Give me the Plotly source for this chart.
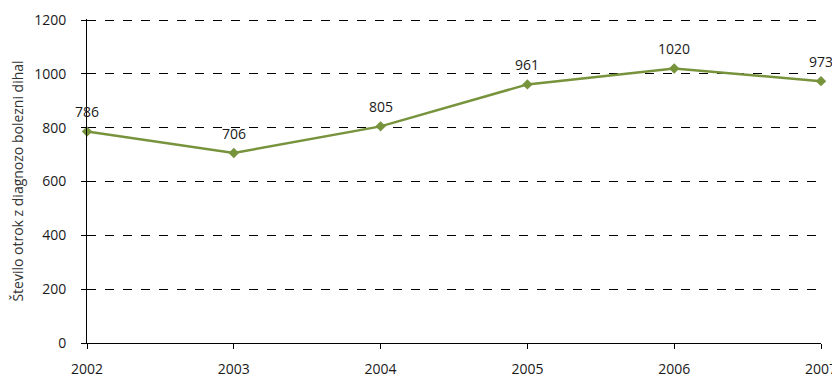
import plotly.graph_objects as go

years = [2002, 2003, 2004, 2005, 2006, 2007]
values = [786, 706, 805, 961, 1020, 973]
labels = ["786", "706", "805", "961", "1020", "973"]
y_ticks = [0, 200, 400, 600, 800, 1000, 1200]

color = "#77933C"
font = "Open Sans, Noto Sans, sans-serif"

fig = go.Figure()
fig.add_trace(go.Scatter(
    x=years, y=values, mode="lines+markers",
    line=dict(color=color, width=2.5),
    marker=dict(symbol="diamond", size=8, color=color),
    cliponaxis=False, hoverinfo="skip", showlegend=False,
))
for x, y, t in zip(years, values, labels):
    fig.add_annotation(x=x, y=y, text=t, showarrow=False, yshift=20,
                       font=dict(family=font, size=14, color="#1a1a1a"))

# page body adds an 8px offset; margins compensate for it
fig.update_layout(
    width=840, height=378,
    margin=dict(l=79, r=27, t=11, b=43),
    paper_bgcolor="white", plot_bgcolor="white",
    font=dict(family=font, size=14, color="#1a1a1a"),
)
fig.update_xaxes(
    range=[2002, 2007], tickvals=years, ticktext=[str(y) for y in years],
    showgrid=False, zeroline=False, showline=True, linecolor="black", linewidth=1,
    ticks="outside", ticklen=5, tickcolor="black", ticklabelstandoff=8,
    automargin=False,
)
fig.update_yaxes(
    range=[0, 1204], tickvals=y_ticks,
    showgrid=True, gridcolor="black", griddash="dash", gridwidth=1,
    zeroline=False, showline=True, linecolor="black", linewidth=1,
    ticks="outside", ticklen=5, tickcolor="black", ticklabelstandoff=12,
    automargin=False,
    title=dict(text="Število otrok z diagnozo bolezni dihal", standoff=10,
               font=dict(size=14, color="#333333")),
)
fig.write_html("out.html")
